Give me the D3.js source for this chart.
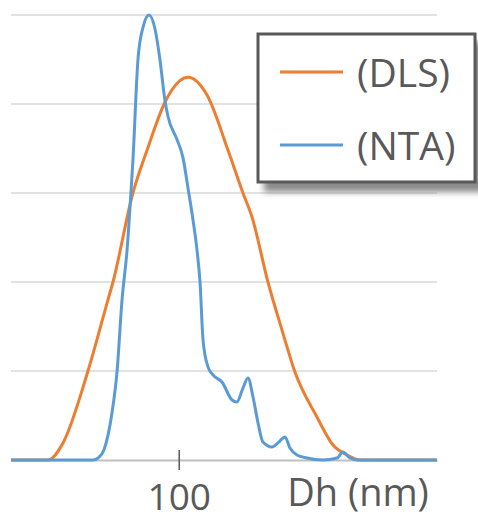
<!DOCTYPE html>
<html><head><meta charset="utf-8">
<script src="https://cdn.jsdelivr.net/npm/d3@7"></script>
<style>html,body{margin:0;padding:0;background:#fff;}svg{display:block;}</style>
</head><body>
<svg id="chart" width="478" height="520"></svg>
<script>
// Data (Dh in nm, relative intensity)
const dlsX = [0,22.1,31.0,45.9,57.8,60.8,72.7,81.1,91.8,96.0,105.5,116.9,129.4,138.3,143.7,153.2,161.6,169.3,182.4,192.0,200.3,208.1,254];
const dlsY = [0,0,0.96,5.0,9.0,10.0,15.0,17.4,20.1,20.8,21.5,20.5,17.4,15.0,13.65,10.0,7.3,4.94,2.42,0.84,0.28,0,0];
const ntaX = [0,48.9,51.9,55.4,60.2,63.2,66.2,69.2,71.5,72.7,75.7,78.7,82.3,85.9,88.8,91.8,93.6,99.0,102.5,105.5,108.5,110.9,112.7,114.5,117.5,120.4,125.8,131.8,134.7,138.3,141.3,144.3,147.3,150.2,155.6,159.2,163.4,166.3,170.5,176.5,186.0,194.4,197.9,202.1,206.3,254];
const ntaY = [0,0,0.11,0.56,2.64,4.94,9.0,11.8,15.0,16.85,22.5,24.3,25.0,24.2,22.5,20.2,19.3,18.0,17.0,15.3,13.5,11.8,10.0,6.74,5.22,4.78,4.38,3.37,3.26,4.04,4.61,3.54,2.08,1.01,0.73,0.96,1.29,0.67,0.28,0.11,0,0.11,0.45,0.11,0,0];
const seriesNames = ["(DLS)", "(NTA)"];
const xTicks = [100];
const yTicks = [0,5,10,15,20,25];
const xTitle = "Dh (nm)";

const FONT = "'Open Sans'";
const svg = d3.select("#chart");
const mLeft = 11, mRight = 437, mTop = 15, mBottom = 460;
const x = d3.scaleLinear().domain([0,254]).range([mLeft,mRight]);
const y = d3.scaleLinear().domain([0,25]).range([mBottom,mTop]);

// gridlines
svg.append("g").selectAll("line").data(yTicks.filter(d=>d>0)).join("line")
  .attr("x1",mLeft).attr("x2",mRight).attr("y1",d=>y(d)).attr("y2",d=>y(d))
  .attr("stroke","#d9d9d9").attr("stroke-width",1.5);

// x axis
const xAxis = d3.axisBottom(x).tickValues(xTicks).tickSize(0).tickFormat(d3.format("d"));
const gx = svg.append("g").attr("transform",`translate(0,${mBottom})`).call(xAxis);
gx.select(".domain").attr("stroke","#bfbfbf").attr("stroke-width",2);
gx.selectAll(".tick line").attr("y1",-10).attr("y2",10).attr("stroke","#595959").attr("stroke-width",1.5);
gx.selectAll(".tick text").attr("y",50).attr("dy",0).attr("fill","#595959")
  .style("font-family",FONT).style("font-size","37px");
svg.append("text").attr("x",358).attr("y",506).attr("text-anchor","middle")
  .attr("fill","#595959").style("font-family",FONT).style("font-size","38px").text(xTitle);

const line = d3.line().x(d=>x(d[0])).y(d=>y(d[1])).curve(d3.curveMonotoneX);
const colors = ["#ED7D31","#5B9BD5"];
svg.append("path").datum(dlsX.map((v,i)=>[v,dlsY[i]])).attr("d",line)
  .attr("fill","none").attr("stroke",colors[0]).attr("stroke-width",3).attr("stroke-linejoin","round");
svg.append("path").datum(ntaX.map((v,i)=>[v,ntaY[i]])).attr("d",line)
  .attr("fill","none").attr("stroke",colors[1]).attr("stroke-width",3).attr("stroke-linejoin","round");

// legend
const defs = svg.append("defs");
const f = defs.append("filter").attr("id","sh").attr("x","-10%").attr("y","-10%").attr("width","130%").attr("height","140%");
f.append("feGaussianBlur").attr("stdDeviation",3);
const lg = svg.append("g");
lg.append("rect").attr("x",264).attr("y",42).attr("width",220).attr("height",150).attr("fill","#8a8a8a").attr("filter","url(#sh)");
lg.append("rect").attr("x",258).attr("y",34).attr("width",217).attr("height",148)
  .attr("fill","#fff").attr("stroke","#595959").attr("stroke-width",3);
const ly = [72,145];
seriesNames.forEach((n,i)=>{
  lg.append("line").attr("x1",280).attr("x2",343).attr("y1",ly[i]).attr("y2",ly[i])
    .attr("stroke",colors[i]).attr("stroke-width",3);
  lg.append("text").attr("x",357).attr("y",ly[i]+15).attr("fill","#595959")
    .style("font-family",FONT).style("font-size","39px").text(n);
});
</script>
</body></html>
